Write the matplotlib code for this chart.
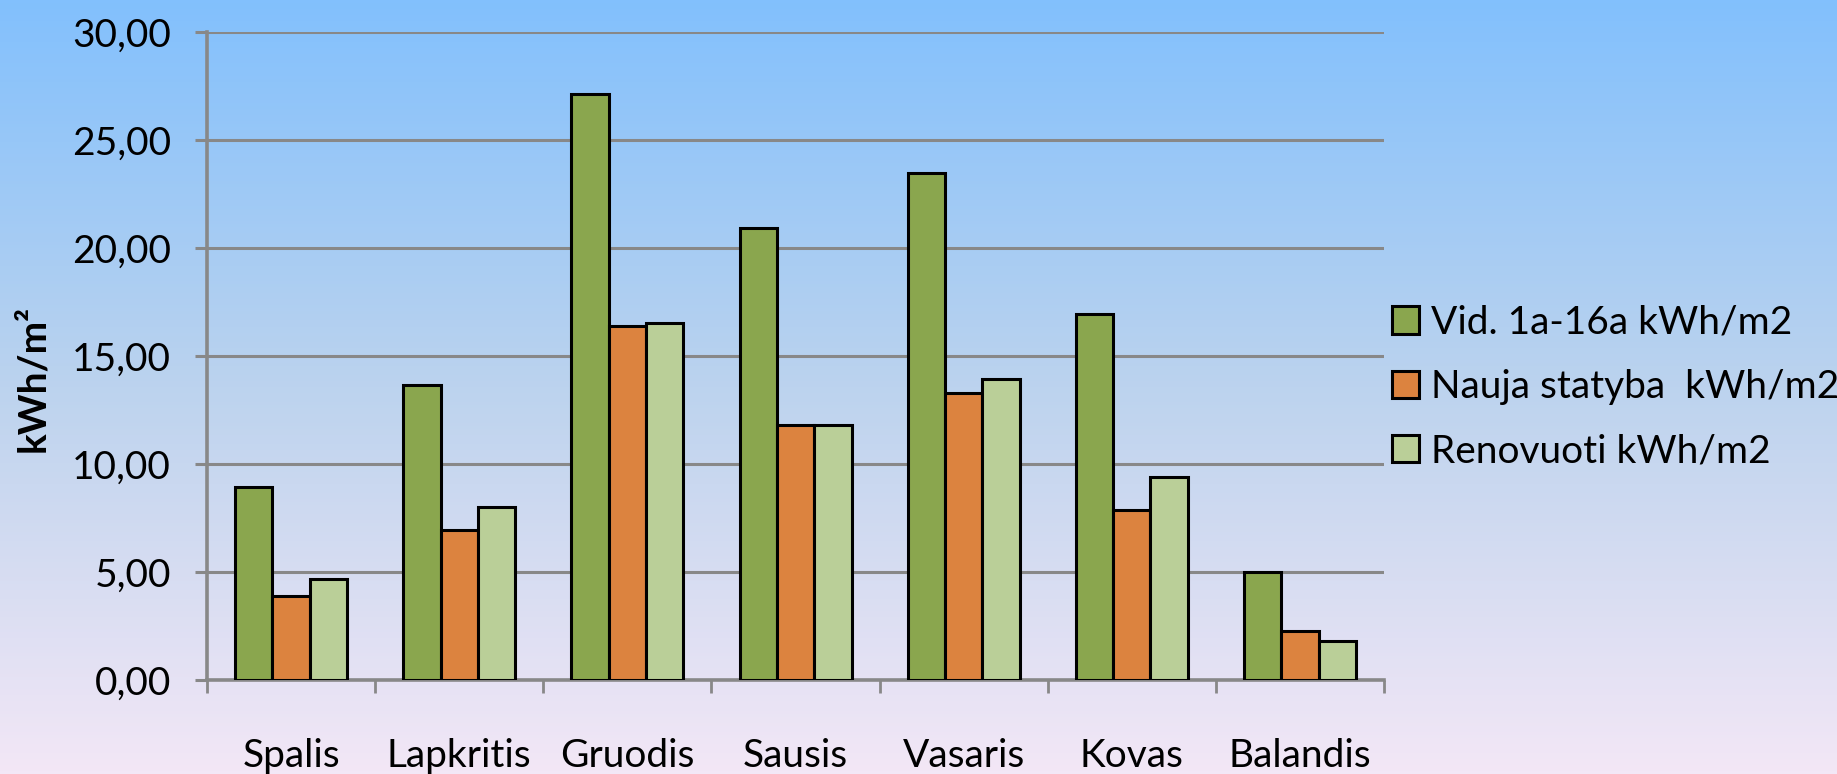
import numpy as np
import matplotlib.pyplot as plt
from matplotlib.colors import LinearSegmentedColormap
from matplotlib.patches import Patch
from matplotlib.ticker import FuncFormatter, FixedLocator

plt.rcParams['font.family'] = ['Lato', 'DejaVu Sans']

# data
menesiai = ['Spalis', 'Lapkritis', 'Gruodis', 'Sausis', 'Vasaris', 'Kovas', 'Balandis']
vid_1a_16a = [8.95, 13.66, 27.13, 20.92, 23.47, 16.96, 4.98]
nauja_statyba = [3.89, 6.93, 16.38, 11.80, 13.31, 7.88, 2.27]
renovuoti = [4.68, 8.02, 16.53, 11.80, 13.95, 9.39, 1.79]
serijos = ['Vid. 1a-16a kWh/m2', 'Nauja statyba  kWh/m2', 'Renovuoti kWh/m2']
spalvos = ['#8AA64E', '#DC833F', '#BACF98']

fs = 28

fig = plt.figure(figsize=(18.37, 7.74), dpi=100)

# fonas - gradientas
bg = fig.add_axes([0, 0, 1, 1], zorder=-1)
cmap = LinearSegmentedColormap.from_list('fonas', ['#F3E7F6', '#BCD3EE', '#82C0FD'])
bg.imshow(np.linspace(0, 1, 256).reshape(-1, 1), aspect='auto', cmap=cmap,
          origin='lower', extent=[0, 1, 0, 1])
bg.axis('off')

ax = fig.add_axes([0.1127, 0.1214, 0.6407, 0.8373])
ax.patch.set_alpha(0)

x = np.arange(len(menesiai))
w = 0.222
for i, (vals, c) in enumerate(zip([vid_1a_16a, nauja_statyba, renovuoti], spalvos)):
    ax.bar(x + (i - 1) * w, vals, w, color=c, edgecolor='black', linewidth=2.2, zorder=3)

ax.set_xlim(-0.5, 6.5)
ax.set_ylim(0, 30)
ax.set_yticks(np.arange(0, 31, 5))
ax.yaxis.set_major_formatter(FuncFormatter(lambda v, p: f'{v:.2f}'.replace('.', ',')))
ax.grid(axis='y', color='#888888', linewidth=2.2, zorder=0)

ax.set_xticks(x)
ax.set_xticklabels(menesiai)
ax.xaxis.set_minor_locator(FixedLocator(np.arange(-0.5, 7, 1)))
ax.tick_params(axis='x', which='major', length=0, pad=42, labelsize=fs)
ax.tick_params(axis='x', which='minor', length=9, width=2, color='#888888', direction='out')
ax.tick_params(axis='y', length=9, width=2.2, color='#888888', labelsize=fs, pad=17)

for s in ['top', 'right']:
    ax.spines[s].set_visible(False)
for s in ['left', 'bottom']:
    ax.spines[s].set_color('#888888')
    ax.spines[s].set_linewidth(2.6)

fig.text(33 / 1837, 0.5116, 'kWh/m²', rotation=90, ha='center', va='center',
         fontsize=fs, fontweight='bold')

handles = [Patch(facecolor=c, edgecolor='black', linewidth=2.2) for c in spalvos]
fig.legend(handles, serijos, loc='center left', bbox_to_anchor=(1392 / 1837, 1 - 387 / 774),
           frameon=False, fontsize=fs, handlelength=0.7, handleheight=0.7,
           handletextpad=0.3, labelspacing=0.73, borderaxespad=0, borderpad=0)

plt.savefig('out.png', dpi=100)
